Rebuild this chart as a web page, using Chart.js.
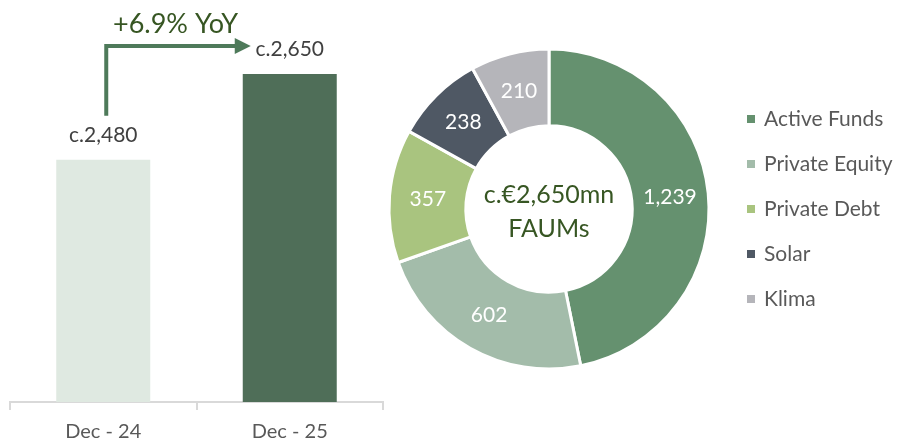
<!DOCTYPE html>
<html><head><meta charset="utf-8">
<script src="https://cdn.jsdelivr.net/npm/chart.js@4"></script>
<style>
html,body{margin:0;padding:0;background:#fff;width:899px;height:443px;overflow:hidden;}
#barWrap{position:absolute;left:0;top:0;width:395px;height:443px;}
#pieWrap{position:absolute;left:385px;top:0;width:514px;height:443px;}
</style></head>
<body>
<div id="barWrap"><canvas id="bar"></canvas></div>
<div id="pieWrap"><canvas id="pie"></canvas></div>
<script>
const barCategories = ['Dec - 24', 'Dec - 25'];
const barValues = [2480, 2650];
const barLabels = ['c.2,480', 'c.2,650'];
const growthLabel = '+6.9% YoY';

const segments = ['Active Funds', 'Private Equity', 'Private Debt', 'Solar', 'Klima'];
const segmentValues = [1239, 602, 357, 238, 210];
const centerLines = ['c.€2,650mn', 'FAUMs'];

const FONT = 'Lato, "Open Sans", sans-serif';
const DARK_GREEN = '#375623';
const ARROW = '#4e7a5a';

const barAnno = {
  id: 'barAnno',
  afterDatasetsDraw(chart) {
    const ctx = chart.ctx;
    const meta = chart.getDatasetMeta(0);
    const b0 = meta.data[0], b1 = meta.data[1];
    ctx.save();
    ctx.fillStyle = '#404040';
    ctx.font = '21px ' + FONT;
    ctx.textAlign = 'center';
    ctx.textBaseline = 'middle';
    ctx.fillText(barLabels[0], b0.x, b0.y - 25);
    ctx.fillText(barLabels[1], b1.x, b1.y - 25);
    // arrow
    const x0 = b0.x + 3, yBot = b0.y - 44, yTop = b1.y - 28;
    const tipX = b1.x - 39;
    ctx.strokeStyle = ARROW;
    ctx.lineWidth = 4;
    ctx.lineCap = 'butt';
    ctx.beginPath();
    ctx.moveTo(x0, yBot);
    ctx.lineTo(x0, yTop);
    ctx.lineTo(tipX - 14, yTop);
    ctx.stroke();
    ctx.fillStyle = ARROW;
    ctx.beginPath();
    ctx.moveTo(tipX - 16, yTop - 8);
    ctx.lineTo(tipX, yTop);
    ctx.lineTo(tipX - 16, yTop + 8);
    ctx.closePath();
    ctx.fill();
    // growth label
    ctx.fillStyle = DARK_GREEN;
    ctx.font = '27px ' + FONT;
    ctx.fillText(growthLabel, (x0 + tipX) / 2 - 3, yTop - 22);
    ctx.restore();
  }
};

new Chart(document.getElementById('bar'), {
  type: 'bar',
  data: {
    labels: barCategories,
    datasets: [{
      data: barValues,
      backgroundColor: ['#dfe9e1', '#4f6e58'],
      categoryPercentage: 1,
      barPercentage: 0.504
    }]
  },
  options: {
    responsive: true, maintainAspectRatio: false, animation: false,
    layout: { padding: { left: 10, right: 12, top: 20, bottom: -11 } },
    plugins: { legend: { display: false }, tooltip: { enabled: false } },
    scales: {
      x: {
        grid: { drawOnChartArea: false, drawTicks: true, tickLength: 8, color: '#d9d9d9', lineWidth: 2 },
        border: { display: true, color: '#d9d9d9', width: 2 },
        ticks: { color: '#595959', font: { size: 20, family: FONT }, padding: 10 }
      },
      y: { display: false, min: 2000, max: 2757 }
    }
  },
  plugins: [barAnno]
});

const pieAnno = {
  id: 'pieAnno',
  afterDatasetsDraw(chart) {
    const ctx = chart.ctx;
    const meta = chart.getDatasetMeta(0);
    const ds = chart.data.datasets[0];
    ctx.save();
    ctx.textAlign = 'center';
    ctx.textBaseline = 'middle';
    ctx.fillStyle = '#ffffff';
    ctx.font = '21px ' + FONT;
    meta.data.forEach((arc, i) => {
      const p = arc.tooltipPosition();
      ctx.fillText(ds.data[i].toLocaleString('en-US'), p.x, p.y);
    });
    const c = meta.data[0];
    ctx.fillStyle = DARK_GREEN;
    ctx.font = '25px ' + FONT;
    ctx.fillText(centerLines[0], c.x, c.y - 14);
    ctx.fillText(centerLines[1], c.x, c.y + 20);
    // legend
    ctx.textAlign = 'left';
    ctx.font = '21px ' + FONT;
    chart.data.labels.forEach((lab, i) => {
      const y = 119 + i * 45;
      const x = 362;
      ctx.fillStyle = ds.backgroundColor[i];
      ctx.fillRect(x, y - 4, 8, 8);
      ctx.fillStyle = '#595959';
      ctx.fillText(lab, x + 17, y);
    });
    ctx.restore();
  }
};

new Chart(document.getElementById('pie'), {
  type: 'doughnut',
  data: {
    labels: segments,
    datasets: [{
      data: segmentValues,
      backgroundColor: ['#65916f', '#a3bcaa', '#a9c47f', '#4f5864', '#b5b5ba'],
      borderColor: '#ffffff',
      borderWidth: 3
    }]
  },
  options: {
    responsive: true, maintainAspectRatio: false, animation: false,
    cutout: '52%',
    radius: 160,
    layout: { padding: { left: 5, right: 191, top: 5, bottom: 30 } },
    plugins: { legend: { display: false }, tooltip: { enabled: false } }
  },
  plugins: [pieAnno]
});
</script>
</body></html>
